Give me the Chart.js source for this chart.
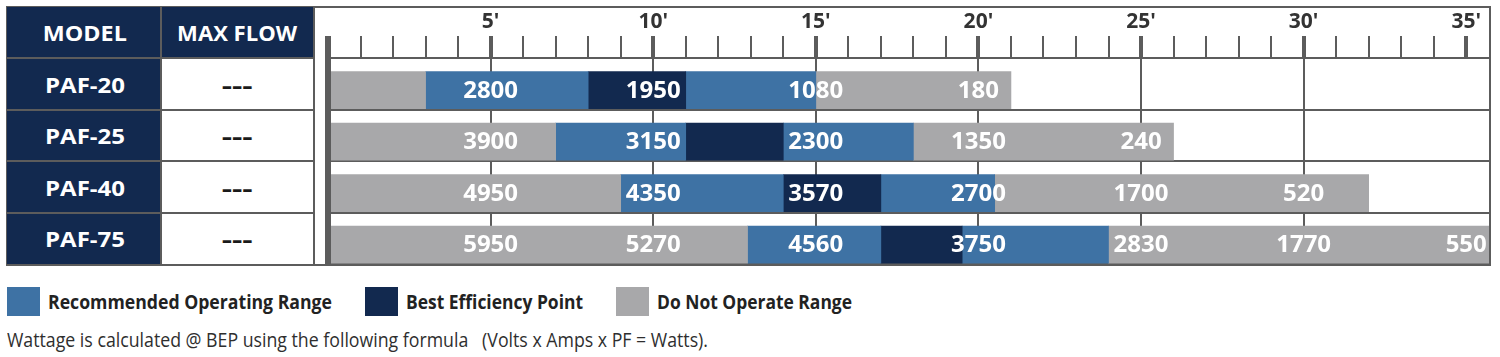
<!DOCTYPE html>
<html>
<head>
<meta charset="utf-8">
<script src="https://cdn.jsdelivr.net/npm/chart.js@4.4.0/dist/chart.umd.min.js"></script>
<style>
  html, body { margin: 0; padding: 0; background: #fff; width: 1500px; height: 357px; overflow: hidden; }
  body { position: relative; font-family: 'Open Sans', sans-serif; }
  .abs { position: absolute; }
  #frame { position: absolute; left: 6px; top: 6px; width: 1485px; height: 260px; border: 2px solid #5c5c5c; box-sizing: border-box; }
  #chartCanvas { position: absolute; left: 316px; top: 0px; }
</style>
</head>
<body>
<div id="frame"></div>
<canvas id="chartCanvas" width="1176" height="270"></canvas>
<script>
// ---------------- DATA ----------------
const models = ["PAF-20", "PAF-25", "PAF-40", "PAF-75"];
const maxFlow = ["---", "---", "---", "---"];
const tableHeaders = ["MODEL", "MAX FLOW"];
const tickFeet = [5, 10, 15, 20, 25, 30, 35];
const tickLabels = ["5'", "10'", "15'", "20'", "25'", "30'", "35'"];
// segment boundaries in feet of head:
// do-not-operate | recommended | best efficiency | recommended | do-not-operate
const rangePAF20 = [0, 3, 8, 11, 15, 21];
const rangePAF25 = [0, 7, 11, 14, 18, 26];
const rangePAF40 = [0, 9, 14, 17, 20.5, 32];
const rangePAF75 = [0, 12.9, 17, 19.5, 24, 35.7];
// wattage read at 5', 10', 15', ...
const wattsPAF20 = [2800, 1950, 1080, 180];
const wattsPAF25 = [3900, 3150, 2300, 1350, 240];
const wattsPAF40 = [4950, 4350, 3570, 2700, 1700, 520];
const wattsPAF75 = [5950, 5270, 4560, 3750, 2830, 1770, 550];
const legendLabels = ["Recommended Operating Range", "Best Efficiency Point", "Do Not Operate Range"];
const footnote = "Wattage is calculated @ BEP using the following formula   (Volts x Amps x PF = Watts).";
const axisMaxFeet = 35.7;

// ---------------- STYLE ----------------
const BLUE = '#3e72a4';
const NAVY = '#12294f';
const GREY = '#a8a8aa';
const LINE = '#5c5c5c';
const TEXT_DARK = '#222222';

const ranges = [rangePAF20, rangePAF25, rangePAF40, rangePAF75];
const watts = [wattsPAF20, wattsPAF25, wattsPAF40, wattsPAF75];
const segColors = [GREY, BLUE, NAVY, BLUE, GREY];
const legendColors = [BLUE, NAVY, GREY];

// ---------------- HTML helpers ----------------
function box(left, top, width, height, color) {
  const d = document.createElement('div');
  d.className = 'abs';
  d.style.left = left + 'px'; d.style.top = top + 'px';
  d.style.width = width + 'px'; d.style.height = height + 'px';
  d.style.background = color;
  document.body.appendChild(d);
  return d;
}
function text(txt, o) {
  const el = document.createElement('div');
  el.className = 'abs';
  el.textContent = txt;
  el.style.whiteSpace = 'pre';
  el.style.lineHeight = '1';
  el.style.left = '0px';
  el.style.fontFamily = "'Open Sans', sans-serif";
  el.style.fontSize = o.size + 'px';
  el.style.fontWeight = o.weight;
  el.style.color = o.color;
  el.style.top = (o.baseline - 0.888 * o.size) + 'px';
  document.body.appendChild(el);
  const w = el.getBoundingClientRect().width;
  const s = o.width ? o.width / w : 1;
  if (o.center != null) {
    el.style.left = (o.center - w / 2) + 'px';
    el.style.transformOrigin = '50% 50%';
  } else {
    el.style.left = o.left + 'px';
    el.style.transformOrigin = '0 50%';
  }
  el.style.transform = 'scaleX(' + s + ')';
  return el;
}

// ---------------- TABLE ----------------
const rowLineY = [7, 58, 109.5, 161, 212.5, 264];
const colLineX = [7, 161, 314];
box(7, 7, 154, 257, NAVY);            // model column
box(161, 7, 153, 51, NAVY);           // max flow header
rowLineY.slice(1, 5).forEach(y => box(6, y - 1, 309, 2, LINE));
colLineX.slice(1).forEach(x => box(x - 1, 6, 2, 259, LINE));

const modelCenter = (colLineX[0] + colLineX[1]) / 2 + 1;
const flowCenter = (colLineX[1] + colLineX[2]) / 2;
text(tableHeaders[0], { center: modelCenter, baseline: 42, size: 21, weight: 700, color: '#fff', width: 84 });
text(tableHeaders[1], { center: flowCenter, baseline: 42, size: 21, weight: 700, color: '#fff', width: 120 });
models.forEach((m, i) => {
  const cy = (rowLineY[i + 1] + rowLineY[i + 2]) / 2;
  text(m, { center: modelCenter, baseline: cy + 9.5, size: 21, weight: 700, color: '#fff', width: 80 });
  text(maxFlow[i], { center: flowCenter, baseline: cy + 9.5, size: 21, weight: 700, color: '#1a1a1a', width: 31 });
});

// ---------------- LEGEND / FOOTNOTE ----------------
const legendX = [7, 365, 616];
const legendW = [284, 177, 195];
legendLabels.forEach((lab, i) => {
  box(legendX[i], 287, 33, 29, legendColors[i]);
  text(lab, { left: legendX[i] + 41, baseline: 309, size: 19.5, weight: 700, color: TEXT_DARK, width: legendW[i] });
});
text(footnote, { left: 7, baseline: 347, size: 19.5, weight: 400, color: '#2e2e2e', width: 701 });

// ---------------- CHART ----------------
const BAR_SHIFT = 6.4;
const rulerFeet = Array.from({ length: 36 }, (_, i) => i);

const overlay = {
  id: 'overlay',
  beforeDatasetsDraw(chart) {
    chart.ctx.save();
    chart.ctx.translate(0, BAR_SHIFT);
  },
  afterDatasetsDraw(chart) {
    const ctx = chart.ctx;
    ctx.restore();
    const xs = chart.scales.x, ys = chart.scales.y, a = chart.chartArea;
    ctx.save();
    ctx.fillStyle = LINE;
    ctx.fillRect(a.left - 3, a.top - 22, 6, a.bottom - a.top + 22);
    ctx.font = '700 24px "Open Sans"';
    ctx.fillStyle = '#ffffff';
    ctx.textAlign = 'center';
    ctx.textBaseline = 'middle';
    watts.forEach((row, i) => {
      row.forEach((w, j) => {
        ctx.fillText(String(w), xs.getPixelForValue(tickFeet[j]), ys.getPixelForValue(i) + BAR_SHIFT + 1);
      });
    });
    ctx.restore();
  }
};

const datasets = segColors.map((color, s) => ({
  label: 'segment ' + s,
  data: ranges.map(r => [r[s], r[s + 1]]),
  backgroundColor: color,
  borderWidth: 0,
  borderSkipped: false,
  grouped: false,
  barThickness: 37
}));

new Chart(document.getElementById('chartCanvas'), {
  type: 'bar',
  data: { labels: models, datasets },
  plugins: [overlay],
  options: {
    indexAxis: 'y',
    responsive: false,
    animation: false,
    devicePixelRatio: 1,
    layout: { padding: { left: 12, right: 3, top: 0, bottom: 6 } },
    plugins: { legend: { display: false }, tooltip: { enabled: false } },
    scales: {
      x: {
        type: 'linear',
        position: 'top',
        min: 0,
        max: axisMaxFeet,
        afterBuildTicks: (scale) => { scale.ticks = rulerFeet.map(v => ({ value: v })); },
        afterFit: (scale) => { scale.height = 58; },
        border: { display: true, color: LINE, width: 2 },
        grid: {
          drawOnChartArea: true,
          drawTicks: true,
          tickLength: 22,
          tickColor: LINE,
          tickWidth: (ctx) => (ctx.tick && ctx.tick.value % 5 === 0) ? 4 : 2,
          lineWidth: (ctx) => {
            const v = ctx.tick ? ctx.tick.value : -1;
            return (v % 5 === 0 && v > 0 && v < 35) ? 2 : 0;
          },
          color: (ctx) => {
            const v = ctx.tick ? ctx.tick.value : -1;
            return (v % 5 === 0 && v > 0 && v < 35) ? LINE : 'rgba(0,0,0,0)';
          }
        },
        ticks: {
          autoSkip: false,
          maxRotation: 0,
          padding: 1,
          color: '#333333',
          font: { family: "'Open Sans'", size: 21, weight: 'bold' },
          callback: (value) => {
            const k = tickFeet.indexOf(value);
            return k >= 0 ? tickLabels[k] : '';
          }
        }
      },
      y: {
        type: 'category',
        offset: true,
        afterFit: (scale) => { scale.width = 0; },
        border: { display: false },
        grid: { offset: true, color: LINE, lineWidth: 2, drawTicks: false },
        ticks: { display: false }
      }
    }
  }
});
</script>
</body>
</html>
